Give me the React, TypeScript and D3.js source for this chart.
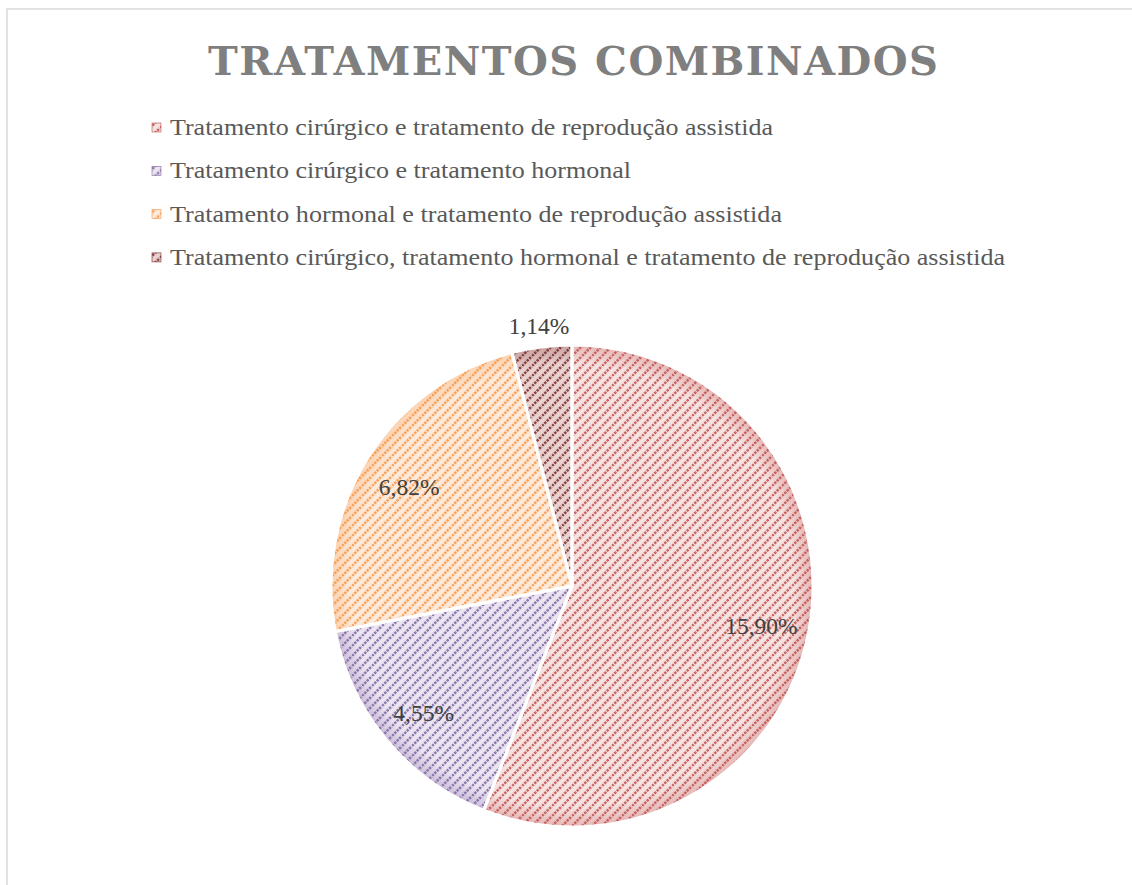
import React from "react";
import * as d3 from "d3";

const title = "TRATAMENTOS COMBINADOS";
const categories = [
  "Tratamento cirúrgico e tratamento de reprodução assistida",
  "Tratamento cirúrgico e tratamento hormonal",
  "Tratamento hormonal e tratamento de reprodução assistida",
  "Tratamento cirúrgico, tratamento hormonal e tratamento de reprodução assistida",
];
const values = [15.9, 4.55, 6.82, 1.14];
const valueLabels = ["15,90%", "4,55%", "6,82%", "1,14%"];
const stripeColors = ["#c0504d", "#8064a2", "#f79646", "#772c2a"];
const bgColors = ["#f5e2e1", "#ebe5f1", "#fdeadb", "#ead2d1"];
const legendWidths = [603, 461, 612, 835];

const W = 1132;
const H = 885;
const cx = 572;
const cy = 586;
const R = 241;

export default function App() {
  const pie = d3.pie<number>().sort(null).value((d) => d);
  const arcs = pie(values);
  const arcGen = d3.arc<d3.PieArcDatum<number>>().innerRadius(0).outerRadius(R);
  const labelArc = d3.arc<d3.PieArcDatum<number>>().innerRadius(R * 0.8).outerRadius(R * 0.8);
  const outerLabelArc = d3.arc<d3.PieArcDatum<number>>().innerRadius(R + 21).outerRadius(R + 21);

  return (
    <svg
      width={W}
      height={H}
      style={{ position: "absolute", left: 0, top: 0 }}
      xmlns="http://www.w3.org/2000/svg"
    >
      <defs>
        {stripeColors.map((c, i) => (
          <pattern
            key={i}
            id={`pat${i}`}
            patternUnits="userSpaceOnUse"
            width={10}
            height={10}
          >
            <rect width={10} height={10} fill={bgColors[i]} />
            <path
              d="M-2,2 L2,-2 M0,10 L10,0 M8,12 L12,8"
              stroke={c}
              strokeWidth={2.6}
              strokeDasharray="2.4 1"
              opacity={0.85}
            />
          </pattern>
        ))}
        {stripeColors.map((c, i) => (
          <radialGradient
            key={`g${i}`}
            id={`rg${i}`}
            gradientUnits="userSpaceOnUse"
            cx={0}
            cy={0}
            r={R}
          >
            <stop offset="0.92" stopColor={c} stopOpacity={0} />
            <stop offset="1" stopColor={c} stopOpacity={0.3} />
          </radialGradient>
        ))}
      </defs>
      <rect x={0} y={0} width={W} height={H} fill="#ffffff" />
      <rect x={7} y={9} width={W + 20} height={H + 20} fill="none" stroke="#d9d9d9" strokeWidth={1.5} />

      <text
        x={208}
        y={75}
        textLength={730}
        lengthAdjust="spacing"
        fontFamily="'DejaVu Serif', serif"
        fontWeight="bold"
        fontSize={40}
        fill="#7f7f7f"
      >
        {title}
      </text>

      {categories.map((cat, i) => (
        <g key={cat} transform={`translate(0, ${128 + i * 43.3})`}>
          <rect x={152} y={-5} width={9} height={9} fill={`url(#pat${i})`} stroke={stripeColors[i]} strokeWidth={0.6} />
          <text
            x={170}
            y={7}
            textLength={legendWidths[i]}
            lengthAdjust="spacingAndGlyphs"
            fontFamily="'Liberation Serif', serif"
            fontSize={22.5}
            fill="#595959"
          >
            {cat}
          </text>
        </g>
      ))}

      <g transform={`translate(${cx}, ${cy})`}>
        {arcs.map((a, i) => (
          <g key={i}>
            <path d={arcGen(a) || ""} fill={`url(#pat${i})`} />
            <path d={arcGen(a) || ""} fill={`url(#rg${i})`} />
          </g>
        ))}
        {arcs.map((a, i) => (
          <path
            key={`s${i}`}
            d={arcGen(a) || ""}
            fill="none"
            stroke="#ffffff"
            strokeWidth={3}
          />
        ))}
        {arcs.map((a, i) => {
          const p = i === 3 ? outerLabelArc.centroid(a) : labelArc.centroid(a);
          return (
            <text
              key={`l${i}`}
              x={p[0]}
              y={p[1] + (i === 3 ? 0 : 4)}
              textAnchor="middle"
              dominantBaseline="central"
              fontFamily="'Liberation Serif', serif"
              fontSize={23.5}
              fill="#404040"
            >
              {valueLabels[i]}
            </text>
          );
        })}
      </g>
    </svg>
  );
}
